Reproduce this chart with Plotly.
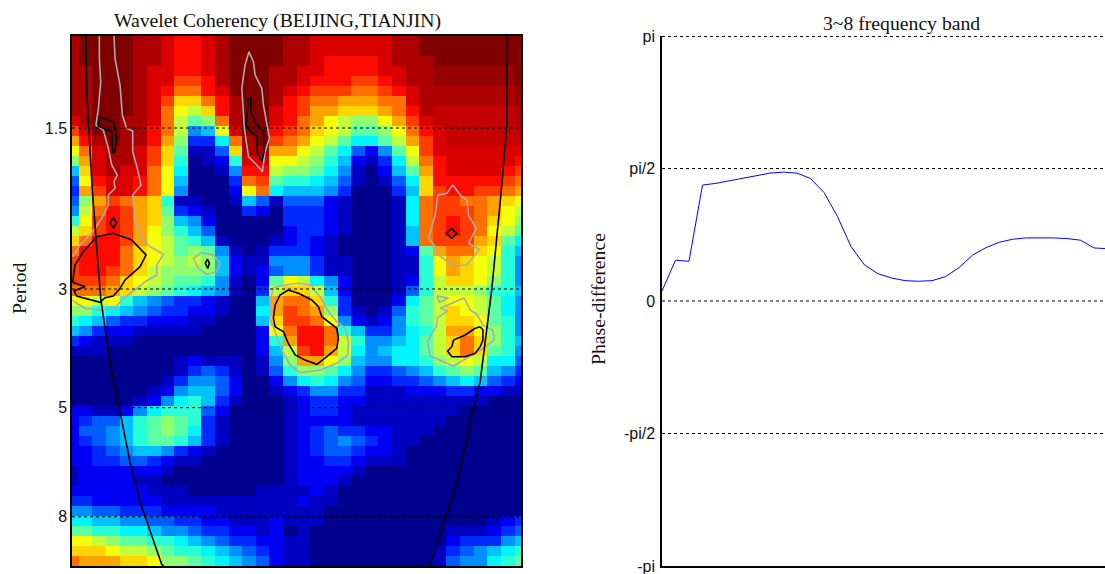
import math
import plotly.graph_objects as go

# coherency levels (0-20) : rows = wavelet scale index, columns = time index 0..33
coherency = [
[19,20,20,20,20,19,19,18,17,17,18,19,20,20,20,20,19,19,18,18,18,18,18,18,19,19,20,20,20,20,20,20,20,20],
[19,20,20,20,20,19,19,18,17,17,18,19,20,20,20,20,19,19,18,18,18,18,18,18,19,19,20,20,20,20,20,20,20,20],
[19,20,20,20,20,19,19,18,17,17,18,19,20,20,20,20,19,19,18,17,17,17,17,18,19,19,19,20,20,20,20,20,20,20],
[19,19,20,20,20,19,18,18,17,17,18,19,20,20,20,19,19,18,18,17,17,17,17,18,18,19,19,19.5,19.5,19.5,19.5,19.5,19.5,20],
[19,19,20,20,20,19,18,18,16,16,17,19,20,20,20,19,19,18,17,17,17,16,16,17,18,19,19,19.5,19.5,19.5,19.5,19.5,19.5,20],
[19,19,20,20,20,19,18,17,15,15,17,18,20,20,20,19,18,17,16,16,16,15,15,16,17,18,19,19,19,19,19,19,19,19.5],
[19,19,20,20,20,19,18,16,13,13,15,17,19,20,20,19,17,16,15,15,14,14,14,15,15,18,19,19,19,19,19,19,19,19.5],
[19,19,20,20,20,19,18,15,12,11,13,17,19,20,20,18,17,16,14,14,13,13,13,14,15,17,19,18.5,18.5,18.5,18.5,18.5,18.5,19],
[18,19,20,20,19,19,18,15,11,9,10,15,19,20,20,18,17,15,14,12,11,10,10,12,14,16,18,18.5,18.5,18.5,18.5,18.5,18.5,19],
[16,18,20,20,19,19,17,15,11,5,6,12,18,20,20,17,16,15,13,12,11,9,9,10,12,15,17,18,18.5,18.5,18.5,18.5,18.5,18.5],
[14,17,19,20,19,19,17,14,10,3,3,7,15,19,20,16,15,14,12,11,9,7,7,9,11,14,16,18,18.5,18.5,18.5,18.5,18.5,18.5],
[12,15,18,19,19,18,16,13,9,1,1,4,13,19,19,14,14,12,11,9,7,4,2,5,9,12,16,18,18,18,18,18,18,18],
[10,14,18,19,19,18,16,13,8,0,1,2,8,18,18,12,12,11,10,8,6,2,1,3,7,11,15,17,18,18,18,18,18,17],
[6,13,18,19,18,18,15,12,7,0,0,1,5,17,17,11,10,10,9,7,5,1,0,2,6,9,14,17,18,18,18,18,17,16],
[4,12,17,18,18,17,15,12,6,0,0,0,3,15,16,9,8,8,7,6,4,1,0,1,4,7,13,17,17,17,17,17,16,15],
[3,14,16,18,18,17,15,12,5,0,0,0,2,12,15,7,6,6,6,5,3,0,0,0,3,6,13,16,17,17,16,16,15,14],
[4,10,14,16,15,14,13,8,1,1,0,0,1,6,4,1,4,4,4,2,1,0,0,0,1,7,15,16,16,15,15,14,13,12],
[5,11,15,17,16,14,13,9,3,2,1,0,0,3,2,0,3,3,3,2,1,0,0,0,1,7,15,16,16,16,15,14,12,11],
[8,12,16,17,16,14,13,10,6,5,2,0,0,0,0,0,3,3,3,2,1,0,0,0,1,7,15,16,17,16,15,13,12,10],
[11,13,16,17,16,14,12,10,8,6,4,0,0,0,0,0,2,3,3,2,1,0,0,0,1,6,15,16,17,16,15,12,11,9],
[13,15,17,17,16,14,12,11,9,8,6,1,0,0,0,1,2,3,2,1,0,0,0,0,1,6,15,16,16,16,14,13,9,7],
[15,17,17,17,15,13,12,11,9,10,9,5,1,0,1,3,3,3,2,1,0,0,0,0,1,2,9,14,15,15,13,12,8,6],
[16,17,17,17,15,13,12,11,10,11,10,6,2,1,1,5,5,5,3,1,1,0,0,0,1,1,8,12,14,13,12,11,8,5],
[16,17,17,16,15,13,11,10,10,10,10,6,2,1,2,4,5,5,3,1,1,0,0,0,1,1,8,12,14,13,12,11,8,5],
[16,16,16,15,13,12,11,10,9,9,8,5,1,0,2,9,12,11,7,5,2,0,0,0,1,2,8,11,13,13,12,10,8,5],
[15,15,15,14,13,11,10,9,8,7,6,5,1,0,3,11,13,13,11,6,2,0,0,0,1,4,8,11,11,11,10,8,8,6],
[12,12,11,12,8,6,5,4,3,3,2,1,0,0,6,14,15,15,13,8,3,0,0,0,2,7,9,11,12,12,11,9,7,5],
[10,10,8,7,6,5,4,3,3,2,2,1,0,0,7,14,16,15,14,10,3,1,0,1,4,8,9,11,13,12,11,9,7,5],
[8,7,6,4,3,3,2,2,2,1,1,0,0,0,6,13,16,16,15,12,5,2,1,2,5,8,9,11,13,13,12,9,8,5],
[6,5,3,2,2,1,1,1,1,1,0,0,0,0,2,12,15,17,17,15,8,6,3,3,5,7,8,11,14,14,12,10,8,5],
[3,2,1,1,1,0,0,0,0,0,0,0,0,0,2,8,14,17,17,15,11,8,5,5,6,7,9,11,13,15,13,10,8,6],
[1,1,1,0,0,0,0,0,0,0,0,0,0,0,2,6,11,16,17,14,11,7,5,6,7,7,9,11,13,15,13,9,8,5],
[0,0,0,0,0,0,0,0,1,2,1,1,1,0,1,5,10,14,14,12,10,6,5,5,7,7,8,10,11,12,11,7,7,4],
[0,0,0,0,0,0,0,0,1,3,4,3,1,0,1,4,8,10,10,9,7,5,3,3,4,5,6,8,9,10,9,6,5,3],
[0,0,0,0,0,0,0,1,3,5,5,4,2,0,0,2,5,7,8,7,5,4,2,2,3,3,4,5,6,7,6,4,3,2],
[0,0,0,0,0,0,1,2,5,6,6,4,2,0,0,1,2,3,5,5,3,3,1,1,1,2,2,2,3,3,2,2,1,1],
[0,0,0,0,0,1,2,5,7,8,6,3,1,0,0,0,1,2,3,3,2,2,1,1,1,1,1,1,1,1,1,0,0,0],
[2,2,1,1,2,5,7,8,8,8,4,2,0,0,0,0,1,2,3,3,2,1,1,1,1,1,1,1,1,0,0,0,0,0],
[2,3,4,4,6,8,9,10,9,8,3,1,0,0,0,0,1,2,2,2,2,1,1,1,1,1,1,1,0,0,0,0,0,0],
[2,4,4,5,6,8,9,10,9,7,3,1,0,0,0,0,1,2,3,4,3,3,2,2,1,1,1,0,0,0,0,0,0,0],
[2,3,4,5,6,8,9,9,8,6,3,1,0,0,0,0,1,2,3,4,5,4,3,2,1,1,0,0,0,0,0,0,0,0],
[2,2,3,4,5,6,6,5,3,2,1,0,0,0,0,0,1,2,3,4,4,3,2,2,1,0,0,0,0,0,0,0,0,0],
[2,2,3,3,4,4,3,2,1,1,0,0,0,0,0,0,1,2,2,3,3,2,1,1,1,0,0,0,0,0,0,0,0,0],
[1,2,2,2,2,2,2,1,0,0,0,0,0,0,0,0,1,2,2,2,2,1,0,0,0,0,0,0,0,0,0,0,0,0],
[1,2,2,2,2,1,1,0,0,0,0,0,0,0,0,0,1,2,2,2,1,0,0,0,0,0,0,0,0,0,0,0,0,0],
[2,2,2,2,2,2,1,1,1,0,0,0,0,0,1,1,1,1,2,1,0,0,0,0,0,0,0,0,0,0,0,0,0,0],
[3,3,2,2,2,2,2,1,1,1,1,1,1,1,1,1,1,2,1,1,0,0,0,0,0,0,0,0,0,0,0,0,0,0],
[5,5,4,4,3,3,3,2,2,2,2,1,1,1,1,1,1,1,1,0,0,0,0,0,0,0,0,0,0,0,0,0,0,0],
[7,7,6,6,5,5,4,4,3,3,2,2,1,1,1,2,1,1,1,0,0,0,0,0,0,0,0,0,0,0,0,1,2,3],
[9,9,8,8,7,7,6,5,5,4,3,3,2,2,1,2,0,1,0,0,0,0,0,0,0,0,0,0,1,1,1,2,3,4],
[12,12,11,10,9,9,8,8,7,6,5,4,3,3,2,2,1,1,0,0,0,0,0,0,0,0,0,0,2,3,3,3,5,6],
[13,13,13,12,11,11,10,9,8,8,7,6,5,4,3,2,1,1,0,0,0,0,0,0,0,0,0,1,3,4,5,6,7,8],
[15,14,14,14,13,13,12,10,10,9,8,7,6,5,4,2,1,1,0,0,0,0,0,0,0,0,0,1,4,5,5,7,8,9],
]
time_index = list(range(34))
scale_index = list(range(53))

# period axis
tick_periods = [1.5, 3, 5, 8]
tick_labels = ["1.5", "3", "5", "8"]
scale_at_1p5 = 8.7
scales_per_octave = 16.1

# significance contours as (time, scale index)
gray_contours = [
[(2.01,-0.5),(2.01,1.73),(2.11,4.07),(1.94,6.73),(1.76,8.4),(2.3,8.9),(2.67,10.73),(2.92,12.4),(3.33,13.4),(3.09,14.07),(3.16,14.73),(2.67,15.4),(2.67,16.4),(2.18,17.73),(1.45,19.23),(0.59,20.4),(0.05,21.57)],
[(3.09,-0.5),(3.16,1.73),(3.53,4.4),(3.7,7.4),(4.02,8.73),(4.46,9.0),(4.46,11.07),(4.8,12.73),(5.07,14.4),(4.46,15.4),(4.56,17.4),(5.0,19.4),(5.74,20.57),(6.72,21.33),(6.23,22.4),(6.23,23.4),(5.37,24.07),(4.63,24.9),(3.77,25.73),(3.16,26.73),(2.06,26.9),(0.96,26.73),(0.34,26.23),(0.05,25.9)],
[(8.92,21.73),(9.53,21.17),(10.39,21.4),(10.88,22.23),(10.64,23.07),(9.9,23.33),(9.29,22.73),(8.92,21.73)],
[(13.01,1.07),(13.33,2.07),(13.46,3.4),(13.95,4.73),(14.07,6.4),(14.44,9.07),(14.51,9.73),(14.19,11.07),(14.0,13.07),(13.58,12.4),(12.97,11.57),(12.67,8.73),(12.6,6.73),(12.48,4.73),(12.72,2.4),(13.01,1.07)],
[(27.99,14.4),(28.53,15.4),(29.02,15.9),(29.14,17.4),(29.71,18.73),(29.14,20.23),(29.95,20.83),(29.02,22.4),(28.05,22.47),(26.94,21.4),(26.81,20.73),(26.2,19.73),(26.69,17.4),(26.89,15.4),(27.55,15.23),(27.99,14.4)],
[(28.82,25.67),(27.79,26.33),(27.06,26.73),(27.6,27.0),(26.86,27.67),(26.76,28.57),(26.13,30.07),(26.32,31.5),(28.04,32.5),(30.24,30.73),(31.03,29.9),(30.93,28.9),(30.24,28.47),(29.75,27.33),(29.26,26.9),(28.82,25.67)],
[(26.81,25.47),(27.67,25.73),(27.01,26.13),(26.81,25.47)],
[(14.8,24.67),(15.66,24.4),(16.64,24.23),(17.62,24.4),(17.74,24.8),(18.23,25.57),(18.85,27.07),(19.46,28.07),(20.07,28.73),(20.32,30.07),(20.27,31.4),(19.46,32.23),(18.24,32.9),(16.77,33.17),(16.03,32.4),(15.42,30.9),(14.93,29.07),(14.56,27.73),(14.56,26.07),(14.8,24.67)],
]
black_contours = [
[(0.05,24.13),(0.96,24.57),(0.15,24.97),(0.34,25.5),(2.06,26.13),(2.43,25.67),(3.04,25.5),(3.53,24.73),(3.9,23.9),(5.0,22.57),(5.44,21.4),(4.39,19.9),(3.04,19.23),(1.81,19.57),(0.83,21.07),(0.22,22.4),(0.05,24.13)],
[(3.04,17.67),(3.28,18.17),(3.04,18.67),(2.79,18.17),(3.04,17.67)],
[(2.01,7.57),(3.04,8.07),(3.28,9.57),(3.16,11.07),(2.99,11.23),(2.92,9.07),(1.94,8.5),(2.01,7.57)],
[(9.95,21.8),(10.1,22.23),(9.98,22.73),(9.8,22.23),(9.95,21.8)],
[(12.97,5.73),(13.14,5.73),(13.16,7.07),(13.58,8.4),(14.07,9.0),(14.12,11.07),(13.95,12.0),(13.63,11.23),(13.58,9.57),(13.09,9.0),(12.79,8.4),(12.97,5.73)],
[(27.91,18.73),(28.28,19.27),(27.91,19.73),(27.5,19.27),(27.91,18.73)],
[(30.0,28.57),(30.2,28.9),(30.2,29.9),(30.0,30.57),(29.63,31.23),(28.9,31.57),(27.92,31.57),(27.6,31.0),(27.92,30.57),(28.04,29.9),(28.9,29.4),(29.63,28.73),(30.0,28.57)],
[(15.9,24.9),(16.64,25.23),(17.62,25.9),(18.11,26.57),(18.36,27.57),(18.97,28.23),(19.46,28.73),(19.58,29.73),(19.46,30.73),(18.73,31.57),(18.0,32.33),(17.13,31.9),(16.4,31.4),(15.9,30.23),(15.54,29.07),(14.93,28.57),(14.8,27.73),(14.93,26.4),(15.29,25.4),(15.9,24.9)],
]
# cone of influence
coi_left = [(1.03,-0.5),(1.08,5.07),(1.5,15.07),(2.11,25.73),(2.43,28.73),(2.92,33.07),(3.48,36.73),(4.26,42.07),(5.0,46.07),(6.59,52.33),(6.72,52.5)]
coi_right = [(31.99,-0.5),(31.96,8.4),(31.59,14.4),(31.23,19.73),(30.86,24.73),(30.49,28.73),(30.0,34.07),(29.51,36.73),(28.77,41.4),(28.04,45.4),(27.43,47.73),(26.32,52.33),(26.26,52.5)]

# phase difference (radians) in the 3~8 band
phase_time = list(range(34))
phase_diff = [0.119,0.483,0.471,1.374,1.395,1.425,1.455,1.49,1.516,1.528,1.516,1.452,1.286,1.001,0.645,0.427,0.324,0.273,0.241,0.234,0.241,0.289,0.395,0.543,0.633,0.697,0.733,0.748,0.752,0.748,0.74,0.721,0.629,0.62]
phase_ticks = [3.14159, 1.5708, 0, -1.5708, -3.14159]
phase_labels = ["pi", "pi/2", "0", "-pi/2", "-pi"]

W, H = 1105, 574
LEFT_X = (72, 521)
RIGHT_X = (662, 1105)
PLOT_Y = (36, 566)
SERIF = "Liberation Serif, Times New Roman, serif"
SANS = "Liberation Sans, Arial, sans-serif"
DASH = "3px,3px"

jet = [[0, "#00008f"], [0.11, "#0000ff"], [0.36, "#00ffff"], [0.61, "#ffff00"], [0.86, "#ff0000"], [1, "#800000"]]
tick_rows = [scale_at_1p5 + scales_per_octave * math.log2(p / 1.5) for p in tick_periods]

fig = go.Figure()
fig.add_trace(go.Heatmap(z=coherency, x=time_index, y=scale_index, colorscale=jet, zmin=0, zmax=20,
                         showscale=False, xaxis="x", yaxis="y", hoverinfo="skip"))


def add_path(pts, color, width):
    fig.add_trace(go.Scatter(x=[p[0] for p in pts], y=[p[1] for p in pts], mode="lines",
                             line=dict(color=color, width=width), xaxis="x", yaxis="y",
                             showlegend=False, hoverinfo="skip"))


for c in gray_contours:
    add_path(c, "#aaaaaa", 1.6)
for c in black_contours:
    add_path(c, "#000000", 1.6)
add_path(coi_left, "#000000", 1.6)
add_path(coi_right, "#000000", 1.6)
for r in tick_rows:
    fig.add_trace(go.Scatter(x=[0, 33], y=[r, r], mode="lines", line=dict(color="black", width=1, dash=DASH),
                             xaxis="x", yaxis="y", showlegend=False, hoverinfo="skip"))

for i, v in enumerate(phase_ticks[:4]):
    fig.add_trace(go.Scatter(x=[0, 33], y=[v, v], mode="lines",
                             line=dict(color="black", width=2 if i == 0 else 1, dash=DASH),
                             xaxis="x2", yaxis="y2", showlegend=False, hoverinfo="skip", cliponaxis=False))
fig.add_trace(go.Scatter(x=phase_time, y=phase_diff, mode="lines", line=dict(color="#0000ff", width=1),
                         xaxis="x2", yaxis="y2", showlegend=False, hoverinfo="skip"))

y_dom = [1 - PLOT_Y[1] / H, 1 - PLOT_Y[0] / H]
tickfont = dict(family=SANS, size=16, color="#111111")
titlefont = dict(family=SERIF, size=19.7, color="#111111")
fig.update_layout(
    width=W, height=H, margin=dict(l=0, r=0, t=0, b=0), autosize=False,
    paper_bgcolor="white", plot_bgcolor="white", showlegend=False,
    xaxis=dict(domain=[LEFT_X[0] / W, LEFT_X[1] / W], range=[0, 33], showticklabels=False, ticks="",
               automargin=False, showgrid=False, zeroline=False, showline=True, linecolor="black",
               linewidth=1.5, mirror=True),
    yaxis=dict(domain=y_dom, range=[52.5, -0.5], tickvals=tick_rows, ticktext=tick_labels, ticks="",
               automargin=False, tickfont=tickfont, ticklabelstandoff=0, ticklabeloverflow="allow",
               showgrid=False, zeroline=False, showline=True, linecolor="black", linewidth=1.5, mirror=True),
    xaxis2=dict(domain=[RIGHT_X[0] / W, 1], range=[0, (RIGHT_X[1] - RIGHT_X[0]) / 13.5], anchor="y2",
                automargin=False, showticklabels=False, ticks="", showgrid=False, zeroline=False,
                showline=True, linecolor="black", linewidth=1.5),
    yaxis2=dict(domain=y_dom, range=[-3.1416, 3.1416], anchor="x2", tickvals=phase_ticks, ticktext=phase_labels,
                automargin=False, ticks="", tickfont=tickfont, ticklabelstandoff=2, ticklabeloverflow="allow",
                showgrid=False, zeroline=False, showline=True, linecolor="black", linewidth=1.5),
    annotations=[
        dict(text="Wavelet Coherency (BEIJING,TIANJIN)", xref="paper", yref="paper", x=277 / W, y=1 - 20 / H,
             showarrow=False, xanchor="center", yanchor="middle", font=titlefont),
        dict(text="3~8 frequency band", xref="paper", yref="paper", x=901 / W, y=1 - 23 / H,
             showarrow=False, xanchor="center", yanchor="middle", font=titlefont),
        dict(text="Period", xref="paper", yref="paper", x=19 / W, y=1 - 288 / H, textangle=-90,
             showarrow=False, xanchor="center", yanchor="middle", font=titlefont),
        dict(text="Phase-difference", xref="paper", yref="paper", x=598 / W, y=1 - 299 / H, textangle=-90,
             showarrow=False, xanchor="center", yanchor="middle", font=titlefont),
    ],
)
fig.write_html("out.html", config={"displayModeBar": False},
               post_script="document.body.style.margin='0';document.body.style.overflow='hidden';")
